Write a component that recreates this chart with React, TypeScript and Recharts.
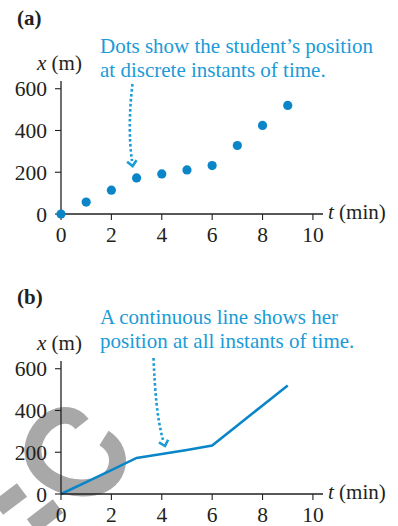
import React from 'react';
import { ComposedChart, Scatter, Line, XAxis, YAxis } from 'recharts';

// time (min) and position (m)
const times = [0, 1, 2, 3, 4, 5, 6, 7, 8, 9];
const positions = [0, 57, 114, 173, 192, 211, 232, 328, 424, 520];
const xTicks = [0, 2, 4, 6, 8, 10];
const yTicks = [0, 200, 400, 600];

const data = times.map((t, i) => ({ t, x: positions[i] }));

const FONT = '"Liberation Serif", "Times New Roman", serif';
const INK = '#231f20';
const BLUE = '#0a86c8';
const TEXT_BLUE = '#1b9bd7';
const W = 398;
const H = 246;

// little chevron at the end of the dotted arrows
const arrowHead = (tx: number, ty: number, dx: number, dy: number) => {
  const len = Math.hypot(dx, dy);
  const ux = dx / len;
  const uy = dy / len;
  const arm = (a: number) => {
    const c = Math.cos(a);
    const s = Math.sin(a);
    const rx = -(ux * c - uy * s);
    const ry = -(ux * s + uy * c);
    return `${tx + rx * 7},${ty + ry * 7}`;
  };
  return `${arm(0.75)} ${tx},${ty} ${arm(-0.75)}`;
};

const tickStyle = { fill: INK, fontSize: 21.5, fontFamily: FONT, style: { fontFamily: FONT } };

const Panel: React.FC<{ mode: 'dots' | 'line' }> = ({ mode }) => (
  <ComposedChart
    width={W}
    height={H}
    data={data}
    margin={{ top: 81, right: 75, left: 0, bottom: 0 }}
    style={{ background: 'transparent', fontFamily: FONT }}
  >
    <XAxis
      dataKey="t"
      type="number"
      domain={[0, 10.4]}
      ticks={xTicks}
      height={32}
      tickSize={6}
      tickMargin={7}
      axisLine={{ stroke: INK, strokeWidth: 1.3 }}
      tickLine={{ stroke: INK, strokeWidth: 1.1 }}
      tick={tickStyle}
    />
    <YAxis
      dataKey="x"
      type="number"
      domain={[0, 637]}
      ticks={yTicks}
      width={61}
      tickSize={6}
      tickMargin={8}
      axisLine={{ stroke: INK, strokeWidth: 1.3 }}
      tickLine={{ stroke: INK, strokeWidth: 1.1 }}
      tick={tickStyle}
    />
    {mode === 'dots' ? (
      <Scatter
        dataKey="x"
        isAnimationActive={false}
        shape={(p: any) => <circle cx={p.cx} cy={p.cy} r={4.6} fill={BLUE} />}
      />
    ) : (
      <Line
        dataKey="x"
        type="linear"
        stroke={BLUE}
        strokeWidth={2.6}
        dot={false}
        activeDot={false}
        isAnimationActive={false}
      />
    )}
  </ComposedChart>
);

export default function App() {
  const txt = { fontFamily: FONT, fontSize: 21 };
  return (
    <div style={{ position: 'absolute', left: 0, top: 0, width: W, height: 526, background: '#fff', overflow: 'hidden', fontFamily: FONT }}>
      {/* grey watermark behind panel (b) */}
      <svg width={W} height={526} style={{ position: 'absolute', left: 0, top: 0 }}>
        <g fill="none" stroke="#a8a8a8" strokeWidth={17} strokeLinecap="butt">
          <path d="M 82 424 C 66 404, 36 422, 33 448 C 31 474, 62 492, 94 487 C 120 482, 126 452, 104 438" />
          <path d="M -2 508 L 22 490" />
          <path d="M 32 526 L 58 506" />
        </g>
      </svg>
      <div style={{ position: 'absolute', left: 0, top: 0 }}>
        <Panel mode="dots" />
      </div>
      <div style={{ position: 'absolute', left: 0, top: 280 }}>
        <Panel mode="line" />
      </div>
      <svg width={W} height={526} style={{ position: 'absolute', left: 0, top: 0, pointerEvents: 'none' }}>
        <text x={17} y={25} style={txt} fontSize={20} fontWeight="bold" fill={INK}>(a)</text>
        <text x={17} y={304} style={txt} fontSize={20} fontWeight="bold" fill={INK}>(b)</text>

        <text x={37} y={70} style={txt} fill={INK}><tspan fontStyle="italic">x</tspan> (m)</text>
        <text x={37} y={350} style={txt} fill={INK}><tspan fontStyle="italic">x</tspan> (m)</text>
        <text x={328} y={219} style={txt} fill={INK}><tspan fontStyle="italic">t</tspan> (min)</text>
        <text x={328} y={499} style={txt} fill={INK}><tspan fontStyle="italic">t</tspan> (min)</text>

        <text x={100} y={53} style={txt} fill={TEXT_BLUE}>Dots show the student’s position</text>
        <text x={100} y={77} style={txt} fill={TEXT_BLUE}>at discrete instants of time.</text>
        <text x={100} y={324} style={txt} fill={TEXT_BLUE}>A continuous line shows her</text>
        <text x={100} y={348} style={txt} fill={TEXT_BLUE}>position at all instants of time.</text>

        <g fill="none" stroke={TEXT_BLUE} strokeWidth={2.6}>
          <path d="M 132.5 84 C 129 112, 129 140, 132 161" strokeDasharray="2.6 2.4" />
          <polyline points={arrowHead(132.6, 166, 0.15, 1)} strokeLinejoin="miter" />
          <path d="M 153.5 358 C 155 392, 157 418, 163 440" strokeDasharray="2.6 2.4" />
          <polyline points={arrowHead(165, 446, 0.3, 1)} strokeLinejoin="miter" />
        </g>
      </svg>
    </div>
  );
}
